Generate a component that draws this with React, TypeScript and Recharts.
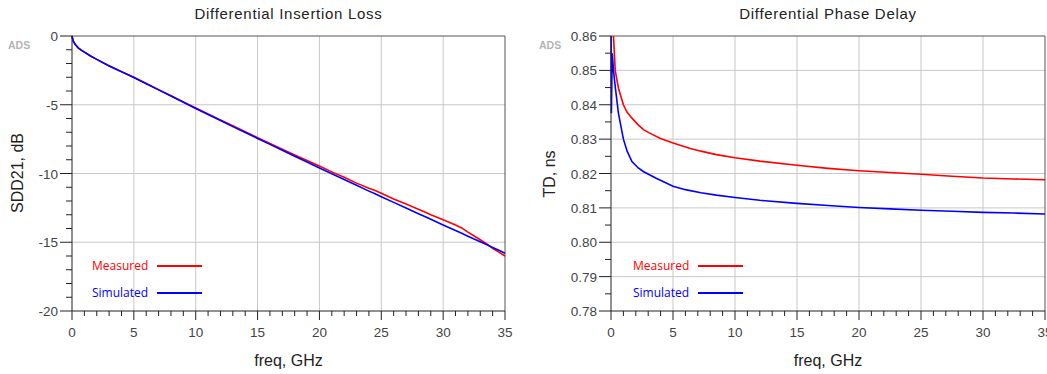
import React from 'react';
import { LineChart, Line, XAxis, YAxis, CartesianGrid, ReferenceLine, Legend } from 'recharts';

// Differential insertion loss (SDD21, dB) vs freq (GHz)
const lossFreq = [0, 0.1, 0.25, 0.5, 0.75, 1, 1.5, 2, 3, 4, 5, 6, 7, 8, 9, 10, 11, 12, 13, 14, 15, 16, 17, 18, 19, 20, 21, 22, 23, 24, 24.5, 25, 26, 27, 28, 28.7, 29, 30, 31, 31.5, 32, 33, 33.5, 34, 34.5, 35];
const lossSimulated = [0, -0.38, -0.6, -0.86, -1.03, -1.17, -1.45, -1.7, -2.18, -2.6, -3.02, -3.47, -3.92, -4.37, -4.82, -5.27, -5.71, -6.15, -6.59, -7.02, -7.45, -7.88, -8.31, -8.74, -9.17, -9.6, -10.02, -10.44, -10.86, -11.28, -11.48, -11.69, -12.1, -12.51, -12.92, -13.2, -13.33, -13.74, -14.15, -14.35, -14.56, -14.97, -15.17, -15.38, -15.58, -15.8];
const lossMeasured = [0, -0.38, -0.6, -0.86, -1.03, -1.17, -1.45, -1.7, -2.17, -2.59, -3.0, -3.45, -3.9, -4.34, -4.79, -5.24, -5.67, -6.1, -6.53, -6.96, -7.4, -7.82, -8.24, -8.66, -9.06, -9.46, -9.88, -10.28, -10.7, -11.08, -11.24, -11.44, -11.86, -12.22, -12.6, -12.88, -13.0, -13.36, -13.74, -13.96, -14.26, -14.82, -15.1, -15.44, -15.72, -16.0];

// Differential phase delay (TD, ns) vs freq (GHz)
const delayMeasFreq = [0.15, 0.2, 0.34, 0.6, 1, 1.3, 1.69, 2.15, 2.64, 3.2, 4, 5, 6.4, 7.25, 8.5, 10, 12, 15, 17.5, 20, 22.5, 25, 27.5, 30, 32.5, 35];
const delayMeasured = [0.866, 0.86, 0.85, 0.8448, 0.84, 0.8378, 0.8361, 0.8343, 0.8327, 0.8316, 0.8302, 0.8289, 0.8273, 0.8265, 0.8255, 0.8246, 0.8236, 0.8224, 0.8215, 0.8208, 0.8203, 0.8198, 0.8192, 0.8187, 0.8184, 0.8182];
const delaySimFreq = [0, 0.03, 0.1, 0.2, 0.34, 0.6, 1, 1.3, 1.69, 2.2, 2.64, 3.6, 5, 6, 7.25, 8.5, 10, 12, 15, 17.5, 20, 22.5, 25, 27.5, 30, 32.5, 35];
const delaySimulated = [0.875, 0.8375, 0.855, 0.85, 0.8453, 0.8375, 0.83, 0.8265, 0.8235, 0.8216, 0.8205, 0.8187, 0.8163, 0.8153, 0.8144, 0.8137, 0.813, 0.8122, 0.8113, 0.8107, 0.8101, 0.8097, 0.8093, 0.809, 0.8087, 0.8085, 0.8082];

// ticks
const freqMajor = [0, 5, 10, 15, 20, 25, 30, 35];
const freqMinor = Array.from({ length: 36 }, (_, i) => i);
const lossMajor = [-20, -15, -10, -5, 0];
const lossMinor = Array.from({ length: 21 }, (_, i) => i - 20);
const delayMajor = [0.78, 0.79, 0.8, 0.81, 0.82, 0.83, 0.84, 0.85, 0.86];
const delayMinor = Array.from({ length: 17 }, (_, i) => +(0.78 + i * 0.005).toFixed(3));

const RED = '#ff0000';
const BLUE = '#0000ff';
const AXIS = '#222';
const FONT = '"Liberation Sans", Arial, sans-serif';

const toPoints = (xs: number[], ys: number[]) => xs.map((f, i) => ({ f, v: ys[i] }));

const isMajor = (majors: number[], v: number) => majors.some((m) => Math.abs(m - v) < 1e-9);

const YTick = (props: any) => {
  const { x, y, payload, majors, fmt } = props;
  const major = isMajor(majors, payload.value);
  return (
    <g>
      <line x1={x - (major ? 12 : 6)} x2={x} y1={y} y2={y} stroke={AXIS} />
      {major && (
        <text x={x - 14} y={y} dy={5} textAnchor="end" fontSize={13.5} fontFamily={FONT} fill="#444">
          {fmt(payload.value)}
        </text>
      )}
    </g>
  );
};

const XTick = (props: any) => {
  const { x, y, payload } = props;
  const major = isMajor(freqMajor, payload.value);
  return (
    <g>
      <line x1={x} x2={x} y1={y} y2={y + (major ? 9 : 5)} stroke={AXIS} />
      {major && (
        <text x={x} y={y + 26} textAnchor="middle" fontSize={13.5} fontFamily={FONT} fill="#444">
          {payload.value}
        </text>
      )}
    </g>
  );
};

const legendContent = (props: any) => (
  <div style={{ fontFamily: '"Open Sans", sans-serif', fontSize: 12 }}>
    {(props.payload || []).map((p: any) => (
      <div key={p.value} style={{ display: 'flex', alignItems: 'center', height: 27 }}>
        <span style={{ color: p.color, width: 65 }}>{p.value}</span>
        <span style={{ width: 45, height: 2, background: p.color }} />
      </div>
    ))}
  </div>
);

const label = (text: string, style: React.CSSProperties) => (
  <div style={{ position: 'absolute', fontFamily: FONT, color: '#222', whiteSpace: 'nowrap', ...style }}>{text}</div>
);

const watermark = (left: number) => (
  <div style={{ position: 'absolute', left, top: 39, fontFamily: FONT, fontWeight: 'bold', fontSize: 10.5, color: '#b4b4b4' }}>ADS</div>
);

function LossChart() {
  return (
    <LineChart width={527} height={374} margin={{ top: 36, right: 22, bottom: 0, left: 0 }}>
      <CartesianGrid stroke="#c8c8c8" horizontalValues={[-15, -10, -5]} verticalValues={[5, 10, 15, 20, 25, 30]} />
      <XAxis type="number" dataKey="f" domain={[0, 35]} ticks={freqMinor} interval={0} height={63}
        tickSize={0} tickMargin={0} tickLine={false} axisLine={{ stroke: AXIS }} tick={<XTick />} />
      <YAxis type="number" domain={[-20, 0]} ticks={lossMinor} interval={0} width={72}
        tickSize={0} tickMargin={0} tickLine={false} axisLine={{ stroke: AXIS }}
        tick={<YTick majors={lossMajor} fmt={(v: number) => String(v)} />} />
      <ReferenceLine y={0} stroke="#555" />
      <ReferenceLine x={35} stroke="#555" />
      <Line data={toPoints(lossFreq, lossMeasured)} dataKey="v" name="Measured" stroke={RED} strokeWidth={1.6} dot={false} isAnimationActive={false} />
      <Line data={toPoints(lossFreq, lossSimulated)} dataKey="v" name="Simulated" stroke={BLUE} strokeWidth={1.6} dot={false} isAnimationActive={false} />
      <Legend layout="vertical" align="center" verticalAlign="middle" content={legendContent}
        wrapperStyle={{ left: 92, top: 252, width: 'auto' }} />
    </LineChart>
  );
}

function DelayChart() {
  return (
    <LineChart width={540} height={374} margin={{ top: 36, right: 22, bottom: 0, left: 0 }}>
      <CartesianGrid stroke="#c8c8c8" horizontalValues={[0.79, 0.8, 0.81, 0.82, 0.83, 0.84, 0.85]} verticalValues={[5, 10, 15, 20, 25, 30]} />
      <XAxis type="number" dataKey="f" domain={[0, 35]} ticks={freqMinor} interval={0} height={63}
        tickSize={0} tickMargin={0} tickLine={false} axisLine={{ stroke: AXIS }} tick={<XTick />} />
      <YAxis type="number" domain={[0.78, 0.86]} allowDataOverflow ticks={delayMinor} interval={0} width={84}
        tickSize={0} tickMargin={0} tickLine={false} axisLine={{ stroke: AXIS }}
        tick={<YTick majors={delayMajor} fmt={(v: number) => v.toFixed(2)} />} />
      <ReferenceLine y={0.86} stroke="#555" />
      <ReferenceLine x={35} stroke="#555" />
      <Line data={toPoints(delayMeasFreq, delayMeasured)} dataKey="v" name="Measured" stroke={RED} strokeWidth={1.6} dot={false} isAnimationActive={false} />
      <Line data={toPoints(delaySimFreq, delaySimulated)} dataKey="v" name="Simulated" stroke={BLUE} strokeWidth={1.6} dot={false} isAnimationActive={false} />
      <Legend layout="vertical" align="center" verticalAlign="middle" content={legendContent}
        wrapperStyle={{ left: 106, top: 252, width: 'auto' }} />
    </LineChart>
  );
}

export default function App() {
  return (
    <div style={{ position: 'absolute', left: 0, top: 0, width: 1047, height: 374, overflow: 'hidden', background: '#fff' }}>
      <div style={{ position: 'absolute', left: 0, top: 0 }}>
        <LossChart />
      </div>
      <div style={{ position: 'absolute', left: 527, top: 0 }}>
        <DelayChart />
      </div>
      {label('Differential Insertion Loss', { left: 72, width: 433, textAlign: 'center', top: 5, fontSize: 15, letterSpacing: 0.7 })}
      {label('Differential Phase Delay', { left: 611, width: 434, textAlign: 'center', top: 5, fontSize: 15, letterSpacing: 0.7 })}
      {label('freq, GHz', { left: 72, width: 433, textAlign: 'center', top: 352, fontSize: 16 })}
      {label('freq, GHz', { left: 611, width: 434, textAlign: 'center', top: 352, fontSize: 16 })}
      {label('SDD21, dB', { left: 18, top: 173, fontSize: 16, transform: 'translate(-50%, -50%) rotate(-90deg)' })}
      {label('TD, ns', { left: 550, top: 174, fontSize: 16, transform: 'translate(-50%, -50%) rotate(-90deg)' })}
      {watermark(8)}
      {watermark(539)}
    </div>
  );
}
